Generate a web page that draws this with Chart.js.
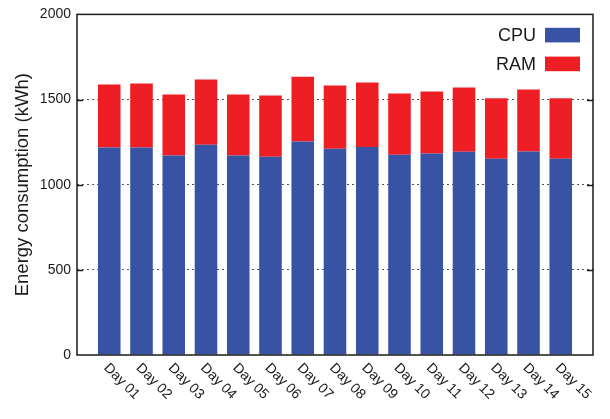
<!DOCTYPE html>
<html>
<head>
<meta charset="utf-8">
<script src="https://cdn.jsdelivr.net/npm/chart.js@4/dist/chart.umd.min.js"></script>
<style>
  html, body { margin: 0; padding: 0; background: #fff; }
  #wrap { width: 610px; height: 419px; }
</style>
</head>
<body>
<div id="wrap"><canvas id="c" width="610" height="419"></canvas></div>
<script>
// Daily energy use, split by component (kWh)
const days = ['Day 01', 'Day 02', 'Day 03', 'Day 04', 'Day 05', 'Day 06', 'Day 07', 'Day 08',
              'Day 09', 'Day 10', 'Day 11', 'Day 12', 'Day 13', 'Day 14', 'Day 15'];
const cpu = [1218, 1218, 1172, 1234, 1172, 1164, 1253, 1211, 1222, 1176, 1183, 1193, 1152, 1195, 1152];
const ram = [370, 376, 358, 383, 358, 360, 381, 371, 378, 360, 364, 378, 355, 364, 355];
const yTicks = [0, 500, 1000, 1500, 2000];

const FONT = '"Liberation Sans", Arial, Helvetica, sans-serif';
const INK = '#1a1a1a';
const CPU_COLOR = '#3953a4';
const RAM_COLOR = '#ed1f24';

const toPoints = arr => arr.map((v, i) => ({ x: i, y: v }));

// Closed frame with inward tick marks on both vertical sides
const framePlugin = {
  id: 'frame',
  afterDatasetsDraw(chart) {
    const { ctx, chartArea: a, scales } = chart;
    ctx.save();
    ctx.strokeStyle = INK;
    ctx.lineWidth = 1.5;
    ctx.strokeRect(a.left, a.top, a.right - a.left, a.bottom - a.top);
    yTicks.forEach(v => {
      if (v === 0 || v === 2000) return;
      const y = Math.round(scales.y.getPixelForValue(v)) + 0.5;
      ctx.beginPath();
      ctx.moveTo(a.left, y); ctx.lineTo(a.left + 6, y);
      ctx.moveTo(a.right, y); ctx.lineTo(a.right - 6, y);
      ctx.stroke();
    });
    ctx.restore();
  }
};

// Day labels slanting down to the right beneath each bar
const dayLabelPlugin = {
  id: 'dayLabels',
  afterDraw(chart) {
    const { ctx, chartArea: a, scales } = chart;
    ctx.save();
    ctx.fillStyle = INK;
    ctx.font = '14px ' + FONT;
    ctx.textAlign = 'left';
    ctx.textBaseline = 'alphabetic';
    days.forEach((d, i) => {
      const x = scales.x.getPixelForValue(i);
      ctx.save();
      ctx.translate(x - 6, a.bottom + 13.5);
      ctx.rotate(Math.PI / 4);
      ctx.fillText(d, 0, 0);
      ctx.restore();
    });
    ctx.restore();
  }
};

// Key in the upper right corner: name first, swatch after it
const keyPlugin = {
  id: 'key',
  afterDraw(chart) {
    const { ctx, chartArea: a } = chart;
    const sets = chart.data.datasets;
    ctx.save();
    ctx.font = '18px ' + FONT;
    ctx.textAlign = 'right';
    ctx.textBaseline = 'middle';
    sets.forEach((ds, k) => {
      const cy = a.top + 20.7 + k * 28.8;
      ctx.fillStyle = INK;
      ctx.fillText(ds.label, a.right - 57, cy + 1);
      ctx.fillStyle = ds.backgroundColor;
      ctx.fillRect(a.right - 48, cy - 7.3, 35, 14.6);
    });
    ctx.restore();
  }
};

new Chart(document.getElementById('c'), {
  type: 'bar',
  data: {
    datasets: [
      { label: 'CPU', data: toPoints(cpu), backgroundColor: CPU_COLOR, borderWidth: 0 },
      { label: 'RAM', data: toPoints(ram), backgroundColor: RAM_COLOR, borderWidth: 0 }
    ]
  },
  options: {
    responsive: false,
    animation: false,
    devicePixelRatio: 1,
    layout: { padding: { top: 11, right: 17, left: 0, bottom: 0 } },
    datasets: { bar: { categoryPercentage: 1, barPercentage: 0.7 } },
    plugins: { legend: { display: false }, tooltip: { enabled: false } },
    scales: {
      x: {
        type: 'linear',
        min: -1,
        max: 15,
        offset: false,
        stacked: true,
        grid: { display: false },
        border: { display: false },
        ticks: { display: false },
        afterFit(s) { s.height = 64; }
      },
      y: {
        min: 0,
        max: 2000,
        stacked: true,
        afterFit(s) { s.width = 77; },
        afterBuildTicks(s) { s.ticks = yTicks.map(v => ({ value: v })); },
        ticks: {
          padding: 6,
          color: INK,
          font: { family: FONT, size: 14 },
          callback: v => String(v)
        },
        grid: {
          drawTicks: false,
          lineWidth: 1,
          color: c => (c.tick && (c.tick.value === 0 || c.tick.value === 2000)) ? 'rgba(0,0,0,0)' : '#555'
        },
        border: { display: false, dash: [2, 3] },
        title: {
          display: true,
          text: 'Energy consumption (kWh)',
          color: INK,
          font: { family: FONT, size: 18.5 },
          padding: { top: 12, bottom: 0 }
        }
      }
    }
  },
  plugins: [framePlugin, dayLabelPlugin, keyPlugin]
});
</script>
</body>
</html>
